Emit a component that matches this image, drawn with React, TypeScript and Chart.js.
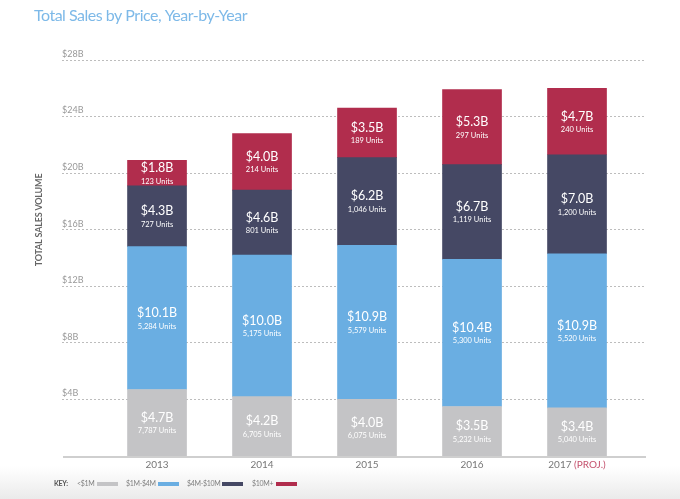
import React, { useEffect, useRef } from 'react';
import { Chart, registerables } from 'chart.js';

Chart.register(...registerables);

const years = ['2013', '2014', '2015', '2016', '2017'];
const yearNotes = ['', '', '', '', '(PROJ.)'];
const seriesNames = ['<$1M', '$1M-$4M', '$4M-$10M', '$10M+'];
const under1M = [4.7, 4.2, 4.0, 3.5, 3.4];
const m1to4 = [10.1, 10.0, 10.9, 10.4, 10.9];
const m4to10 = [4.3, 4.6, 6.2, 6.7, 7.0];
const over10M = [1.8, 4.0, 3.5, 5.3, 4.7];
const unitsUnder1M = ['7,787', '6,705', '6,075', '5,232', '5,040'];
const units1to4 = ['5,284', '5,175', '5,579', '5,300', '5,520'];
const units4to10 = ['727', '801', '1,046', '1,119', '1,200'];
const units10M = ['123', '214', '189', '297', '240'];
const yTickValues = [4, 8, 12, 16, 20, 24, 28];
const titleText = 'Total Sales by Price, Year-by-Year';
const yTitle = 'TOTAL SALES VOLUME';

const colors = ['#c4c4c6', '#6aaee2', '#454864', '#b12d4d'];
const FONT = 'Lato, "Open Sans", sans-serif';

export default function App() {
  const ref = useRef<HTMLCanvasElement | null>(null);
  useEffect(() => {
    const canvas = ref.current;
    if (!canvas) return;
    const values = [under1M, m1to4, m4to10, over10M];
    const units = [unitsUnder1M, units1to4, units4to10, units10M];

    const decor = {
      id: 'decor',
      beforeDraw(chart: any) {
        const { ctx, width, height } = chart;
        ctx.save();
        ctx.fillStyle = '#ffffff';
        ctx.fillRect(0, 0, width, height);
        const g = ctx.createLinearGradient(0, 466, 0, height);
        g.addColorStop(0, 'rgba(236,236,236,0)');
        g.addColorStop(1, 'rgba(234,234,234,1)');
        ctx.fillStyle = g;
        ctx.fillRect(0, 466, width, height - 466);
        ctx.restore();
      },
      afterDatasetsDraw(chart: any) {
        const { ctx, chartArea } = chart;
        ctx.save();
        chart.data.datasets.forEach((ds: any, di: number) => {
          const meta = chart.getDatasetMeta(di);
          meta.data.forEach((el: any, i: number) => {
            const cy = (el.y + el.base) / 2;
            ctx.fillStyle = '#ffffff';
            ctx.textAlign = 'center';
            ctx.textBaseline = 'middle';
            ctx.font = `12.5px ${FONT}`;
            ctx.fillText(`$${values[di][i].toFixed(1)}B`, el.x, cy - 5);
            ctx.font = `7.5px ${FONT}`;
            ctx.fillText(`${units[di][i]} Units`, el.x, cy + 8);
          });
        });
        ctx.strokeStyle = '#cfcfcf';
        ctx.lineWidth = 2;
        ctx.beginPath();
        ctx.moveTo(chartArea.left + 1, chartArea.bottom + 1);
        ctx.lineTo(chartArea.right, chartArea.bottom + 1);
        ctx.stroke();
        const xs = chart.scales.x;
        ctx.font = `10px ${FONT}`;
        ctx.textBaseline = 'middle';
        years.forEach((y, i) => {
          const px = xs.getPixelForValue(i);
          const note = yearNotes[i];
          const full = note ? `${y} ${note}` : y;
          const w = ctx.measureText(full).width;
          const x0 = px - w / 2;
          ctx.textAlign = 'left';
          ctx.fillStyle = '#777777';
          ctx.fillText(y, x0, 465);
          if (note) {
            const w1 = ctx.measureText(y + ' ').width;
            ctx.fillStyle = '#c4506c';
            ctx.fillText(note, x0 + w1, 465);
          }
        });
        ctx.restore();
      },
      afterDraw(chart: any) {
        const { ctx } = chart;
        ctx.save();
        ctx.fillStyle = '#7db9e8';
        ctx.font = `16px ${FONT}`;
        ctx.textAlign = 'left';
        ctx.textBaseline = 'alphabetic';
        (ctx as any).letterSpacing = '-0.5px';
        ctx.fillText(titleText, 34, 21);
        (ctx as any).letterSpacing = '-0.2px';
        ctx.translate(39, 220);
        ctx.rotate(-Math.PI / 2);
        ctx.font = `bold 9px ${FONT}`;
        ctx.fillStyle = '#666666';
        ctx.textAlign = 'center';
        ctx.textBaseline = 'middle';
        ctx.fillText(yTitle, 0, 0);
        ctx.setTransform(1, 0, 0, 1, 0, 0);
        (ctx as any).letterSpacing = '-0.3px';
        const ky = 484;
        ctx.textAlign = 'left';
        ctx.textBaseline = 'middle';
        ctx.font = `bold 7px ${FONT}`;
        ctx.fillStyle = '#555555';
        ctx.fillText('KEY:', 54, ky);
        const labelX = [77, 126, 187, 252];
        const swX = [97, 158, 222, 276];
        ctx.font = `7px ${FONT}`;
        seriesNames.forEach((n, i) => {
          ctx.fillStyle = '#7f7f7f';
          ctx.fillText(n, labelX[i], ky);
          ctx.fillStyle = colors[i];
          ctx.fillRect(swX[i], ky - 2, 21, 4);
        });
        ctx.restore();
      },
    };

    const chart = new Chart(canvas, {
      type: 'bar',
      data: {
        datasets: values.map((arr, di) => ({
          label: seriesNames[di],
          data: arr.map((v, i) => ({ x: i, y: v })),
          backgroundColor: colors[di],
          borderWidth: 0,
          barThickness: 59,
        })),
      },
      options: {
        responsive: false,
        animation: false,
        events: [],
        layout: { padding: { left: 62, right: 34, top: 60, bottom: 43 } },
        plugins: { legend: { display: false }, title: { display: false }, tooltip: { enabled: false } },
        scales: {
          x: {
            type: 'linear',
            stacked: true,
            display: false,
            offset: false,
            grace: 0,
            min: -0.905,
            max: 4.657,
          },
          y: {
            stacked: true,
            min: 0,
            max: 28,
            afterBuildTicks: (s: any) => {
              s.ticks = yTickValues.map((v) => ({ value: v }));
            },
            border: { display: false, dash: [2, 2] },
            grid: { color: '#bdbdbd', lineWidth: 1, drawTicks: false },
            ticks: {
              mirror: true,
              padding: 0,
              labelOffset: -6,
              color: '#999999',
              font: { family: FONT, size: 9 },
              callback: (v: any) => `$${v}B`,
            },
          },
        },
      },
      plugins: [decor],
    });
    return () => chart.destroy();
  }, []);

  return (
    <div style={{ position: 'absolute', left: 0, top: 0, width: 680, height: 499 }}>
      <canvas ref={ref} width={680} height={499} style={{ display: 'block', width: 680, height: 499 }} />
    </div>
  );
}
